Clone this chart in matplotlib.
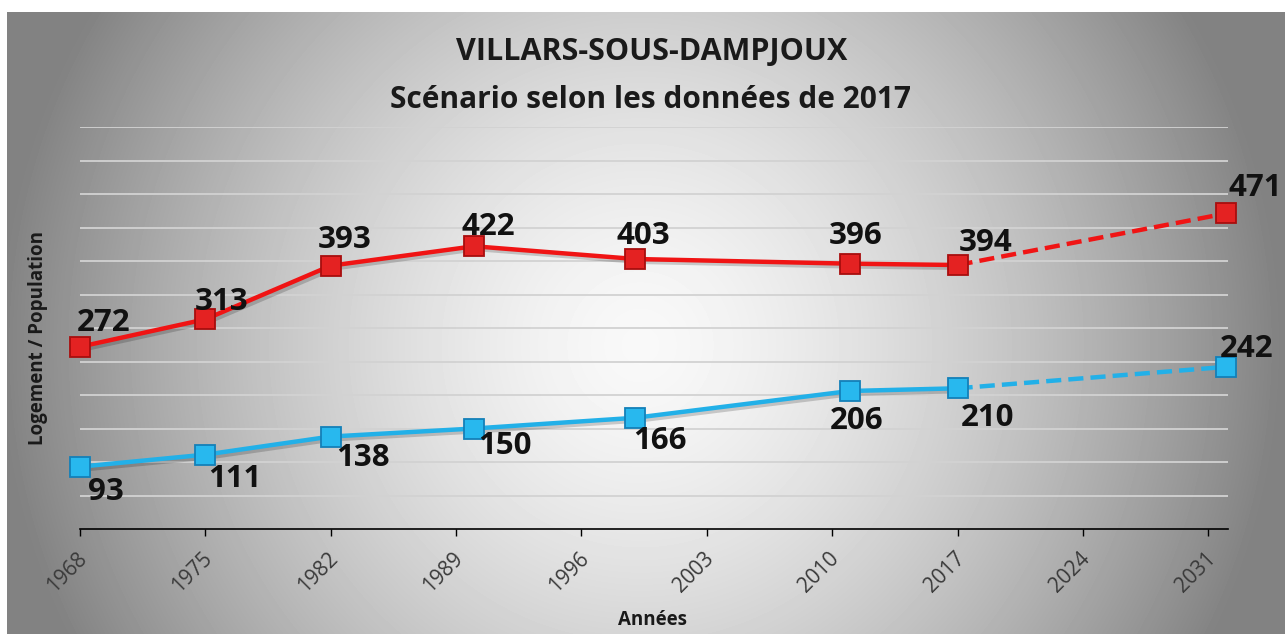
import numpy as np
import matplotlib
matplotlib.use('Agg')
import matplotlib.pyplot as plt
import matplotlib.patheffects as pe
import matplotlib.transforms as mtransforms

plt.rcParams['font.family'] = ['Open Sans', 'DejaVu Sans']

# data
years = [1968, 1975, 1982, 1990, 1999, 2011, 2017]
logement = [93, 111, 138, 150, 166, 206, 210]
population = [272, 313, 393, 422, 403, 396, 394]
proj_years = [2017, 2032]
proj_logement = [210, 242]
proj_population = [394, 471]
tick_years = [1968, 1975, 1982, 1989, 1996, 2003, 2010, 2017, 2024, 2031]

# label offsets in pixels (dx, dy)
pop_offsets = [(24, 24), (16, 17), (14, 26), (14, 19), (8, 23), (6, 28), (28, 22), (29, 25)]
log_offsets = [(26, -25), (29, -24), (32, -21), (31, -18), (25, -23), (7, -30), (30, -30), (20, 18)]

W, H = 1285, 634
fig = plt.figure(figsize=(W / 100, H / 100), dpi=100)
fig.patch.set_facecolor('white')

# gradient background of the chart area
x0, y_top = 7, 12
bg = fig.add_axes([x0 / W, 0, (W - x0) / W, (H - y_top) / H], zorder=-1)
gw, gh = W - x0, H - y_top
gx, gy = np.meshgrid(np.arange(gw), np.arange(gh))
t = np.sqrt(((gx - 633) / 640.0) ** 2 + ((gy - 333) / 650.0) ** 2)
t = np.clip(t, 0, 1) ** 1.5
val = 0.975 - (0.975 - 0.51) * t
bg.imshow(val, cmap='gray', vmin=0, vmax=1, aspect='auto', interpolation='bilinear')
bg.axis('off')

ax = fig.add_axes([80 / W, 1 - 529 / H, (1228 - 80) / W, (529 - 127) / H])
ax.set_facecolor('none')
ax.set_xlim(1968, 2032.1)
ax.set_ylim(0, 600)
ax.set_yticks(np.arange(50, 601, 50))
ax.yaxis.grid(True, color='#d2d2d2', lw=1.3)
ax.set_axisbelow(True)
ax.tick_params(axis='y', left=False, labelleft=False)
for s in ['left', 'top', 'right']:
    ax.spines[s].set_visible(False)
ax.spines['bottom'].set_color('black')
ax.spines['bottom'].set_linewidth(1.2)
ax.set_xticks(tick_years)
ax.set_xticklabels([str(y) for y in tick_years], rotation=45, ha='right', va='center',
                   rotation_mode='anchor', fontsize=15, color='#3a3a3a')
ax.tick_params(axis='x', length=5, width=1, color='black', pad=14)
shift = mtransforms.ScaledTranslation(4 / 100, 0, fig.dpi_scale_trans)
for lab in ax.get_xticklabels():
    lab.set_transform(lab.get_transform() + shift)

red = '#f01414'
blue = '#22b0e8'
shadow = [pe.SimpleLineShadow(offset=(2, -2), alpha=0.18), pe.Normal()]

ax.plot(years, population, color=red, lw=3.2, zorder=3, path_effects=shadow)
ax.plot(proj_years, proj_population, color=red, lw=3.2, ls=(0, (3.4, 1.6)), zorder=3)
ax.plot(years + [2032], population + [proj_population[1]], ls='none', marker='s',
        ms=14, mfc='#e42222', mec='#a80e0e', mew=1.3, zorder=4, clip_on=False)

ax.plot(years, logement, color=blue, lw=3.2, zorder=3, path_effects=shadow)
ax.plot(proj_years, proj_logement, color=blue, lw=3.2, ls=(0, (3.4, 1.6)), zorder=3)
ax.plot(years + [2032], logement + [proj_logement[1]], ls='none', marker='s',
        ms=14, mfc='#28b8ee', mec='#1380b8', mew=1.3, zorder=4, clip_on=False)

all_years = years + [2032]
for x, v, (dx, dy) in zip(all_years, population + [proj_population[1]], pop_offsets):
    ax.annotate(str(v), (x, v), xytext=(dx, dy), textcoords='offset pixels',
                ha='center', va='center', fontsize=22.5, fontweight='bold',
                color='#111111', zorder=5, annotation_clip=False)
for x, v, (dx, dy) in zip(all_years, logement + [proj_logement[1]], log_offsets):
    ax.annotate(str(v), (x, v), xytext=(dx, dy), textcoords='offset pixels',
                ha='center', va='center', fontsize=22.5, fontweight='bold',
                color='#111111', zorder=5, annotation_clip=False)

fig.text(652 / W, 1 - 52 / H, 'VILLARS-SOUS-DAMPJOUX', ha='center', va='center',
         fontsize=22, fontweight='bold', color='#1a1a1a')
fig.text(651 / W, 1 - 100 / H, 'Scénario selon les données de 2017', ha='center',
         va='center', fontsize=21.5, fontweight='bold', color='#1a1a1a')
fig.text(38 / W, 1 - 338 / H, 'Logement / Population', rotation=90, ha='center',
         va='center', fontsize=13.5, fontweight='bold', color='#1a1a1a')
fig.text(653 / W, 1 - 620 / H, 'Années', ha='center', va='center',
         fontsize=13.5, fontweight='bold', color='#1a1a1a')

fig.savefig('out.png', dpi=100)
